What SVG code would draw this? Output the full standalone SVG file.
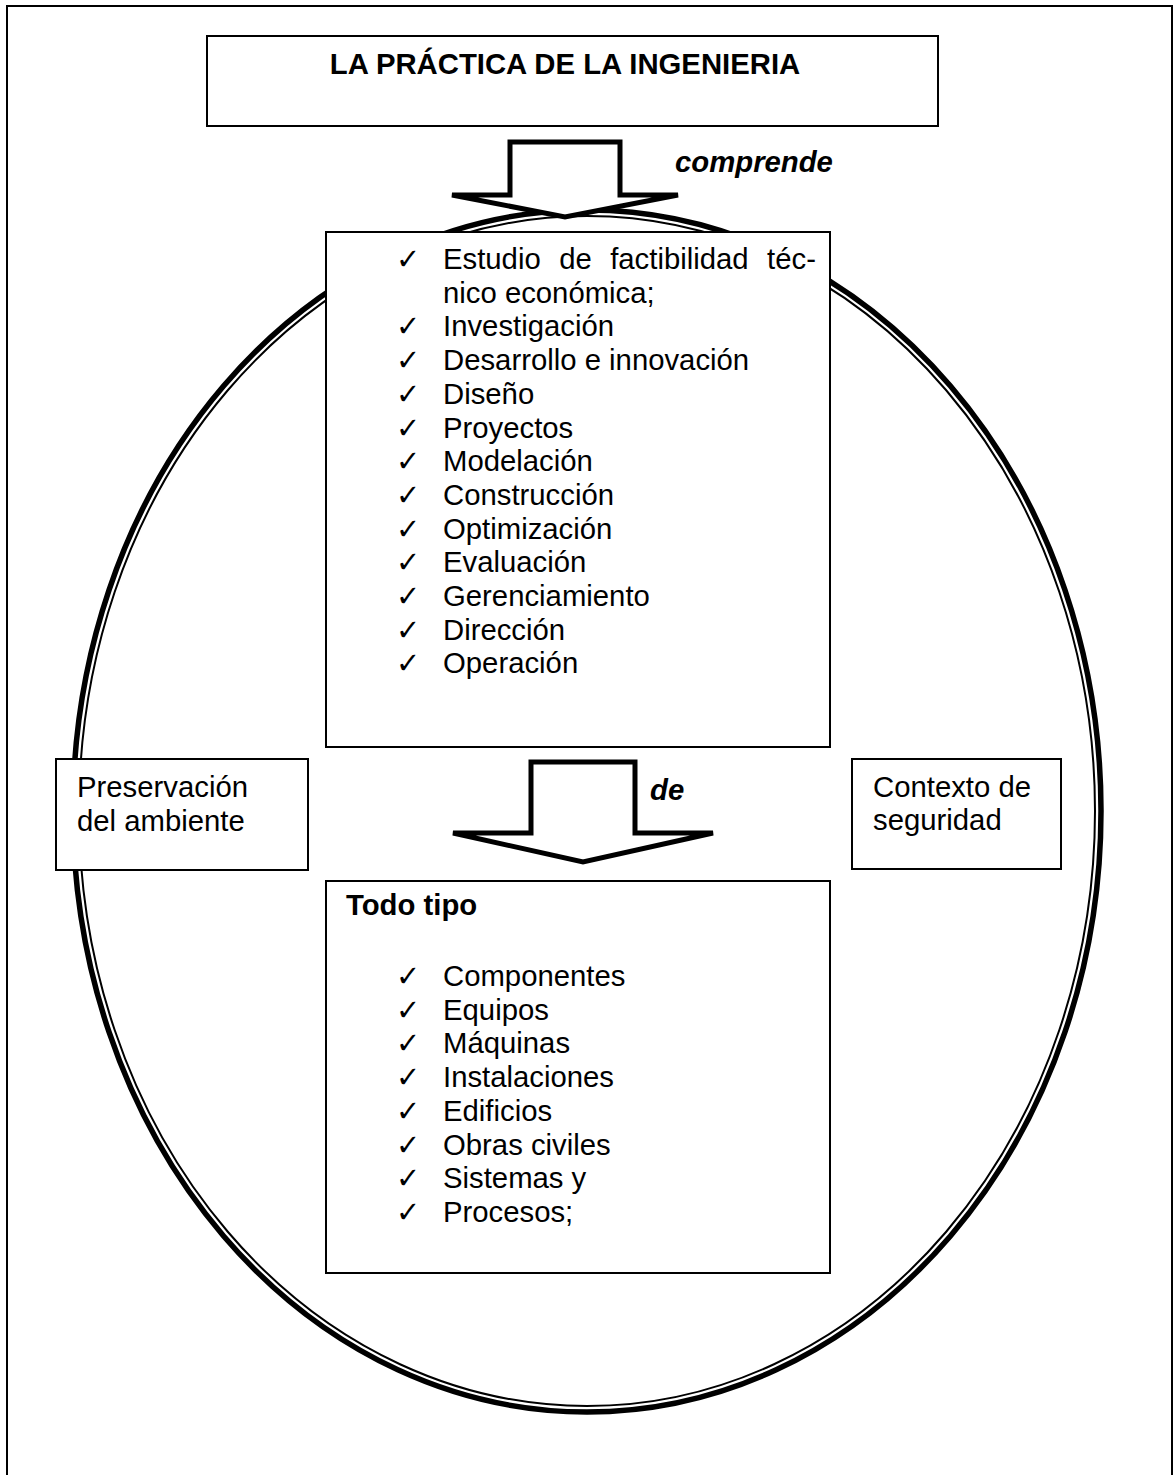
<svg xmlns="http://www.w3.org/2000/svg" width="1175" height="1475" viewBox="0 0 1175 1475">
  <style>
    .box { fill: #ffffff; stroke: #000000; stroke-width: 2; }
    .arrow { fill: #ffffff; stroke: #000000; stroke-width: 5; stroke-linejoin: miter; stroke-miterlimit: 4; }
    .txt { font-family: "Liberation Sans", Arial, sans-serif; font-size: 29.3px; fill: #000000; }
    .bold { font-weight: bold; }
    .lbl { font-family: "Liberation Sans", Arial, sans-serif; font-size: 29.3px; font-weight: bold; font-style: italic; fill: #000000; }
    .chk { font-family: "DejaVu Sans", sans-serif; font-size: 29px; fill: #000000; }
  </style>

  <rect width="1175" height="1475" fill="#ffffff"/>

  <!-- page frame (open at the bottom) -->
  <path d="M7,1475 V6 H1172 V1475" fill="none" stroke="#000000" stroke-width="2"/>

  <!-- double-lined ellipse enclosing the content -->
  <g id="enclosure">
    <ellipse cx="587" cy="811" rx="514" ry="601" fill="none" stroke="#000000" stroke-width="5.5"/>
    <ellipse cx="587" cy="811" rx="508" ry="595" fill="none" stroke="#000000" stroke-width="2"/>
  </g>

  <g id="title">
    <rect class="box" x="207" y="36" width="731" height="90"/>
    <text class="txt bold" x="565" y="74" text-anchor="middle">LA PRÁCTICA DE LA INGENIERIA</text>
  </g>

  <!-- block arrows and their labels -->
  <g id="connectors">
    <polygon class="arrow" points="510,142 620,142 620,195 678,195 565,217 452,195 510,195"/>
    <text class="lbl" x="675" y="172">comprende</text>
    <polygon class="arrow" points="531,762 635,762 635,833 713,833 583,862 453,833 531,833"/>
    <text class="lbl" x="650" y="800">de</text>
  </g>

  <g id="activities">
    <rect class="box" x="326" y="232" width="504" height="515"/>
    <g class="chk">
      <text x="396" y="269">✓</text>
      <text x="396" y="336.4">✓</text>
      <text x="396" y="370.1">✓</text>
      <text x="396" y="403.8">✓</text>
      <text x="396" y="437.5">✓</text>
      <text x="396" y="471.2">✓</text>
      <text x="396" y="504.9">✓</text>
      <text x="396" y="538.6">✓</text>
      <text x="396" y="572.3">✓</text>
      <text x="396" y="606">✓</text>
      <text x="396" y="639.7">✓</text>
      <text x="396" y="673.4">✓</text>
    </g>
    <g class="txt">
      <text x="443" y="269" word-spacing="10.3">Estudio de factibilidad téc-</text>
      <text x="443" y="302.7">nico económica;</text>
      <text x="443" y="336.4">Investigación</text>
      <text x="443" y="370.1">Desarrollo e innovación</text>
      <text x="443" y="403.8">Diseño</text>
      <text x="443" y="437.5">Proyectos</text>
      <text x="443" y="471.2">Modelación</text>
      <text x="443" y="504.9">Construcción</text>
      <text x="443" y="538.6">Optimización</text>
      <text x="443" y="572.3">Evaluación</text>
      <text x="443" y="606">Gerenciamiento</text>
      <text x="443" y="639.7">Dirección</text>
      <text x="443" y="673.4">Operación</text>
    </g>
  </g>

  <g id="environment">
    <rect class="box" x="56" y="759" width="252" height="111"/>
    <text class="txt" x="77" y="797">Preservación</text>
    <text class="txt" x="77" y="831">del ambiente</text>
  </g>

  <g id="safety">
    <rect class="box" x="852" y="759" width="209" height="110"/>
    <text class="txt" x="873" y="797">Contexto de</text>
    <text class="txt" x="873" y="830">seguridad</text>
  </g>

  <g id="objects">
    <rect class="box" x="326" y="881" width="504" height="392"/>
    <text class="txt bold" x="346" y="915">Todo tipo</text>
    <g class="chk">
      <text x="396" y="986">✓</text>
      <text x="396" y="1019.7">✓</text>
      <text x="396" y="1053.4">✓</text>
      <text x="396" y="1087.1">✓</text>
      <text x="396" y="1120.8">✓</text>
      <text x="396" y="1154.5">✓</text>
      <text x="396" y="1188.2">✓</text>
      <text x="396" y="1221.9">✓</text>
    </g>
    <g class="txt">
      <text x="443" y="986">Componentes</text>
      <text x="443" y="1019.7">Equipos</text>
      <text x="443" y="1053.4">Máquinas</text>
      <text x="443" y="1087.1">Instalaciones</text>
      <text x="443" y="1120.8">Edificios</text>
      <text x="443" y="1154.5">Obras civiles</text>
      <text x="443" y="1188.2">Sistemas y</text>
      <text x="443" y="1221.9">Procesos;</text>
    </g>
  </g>
</svg>
